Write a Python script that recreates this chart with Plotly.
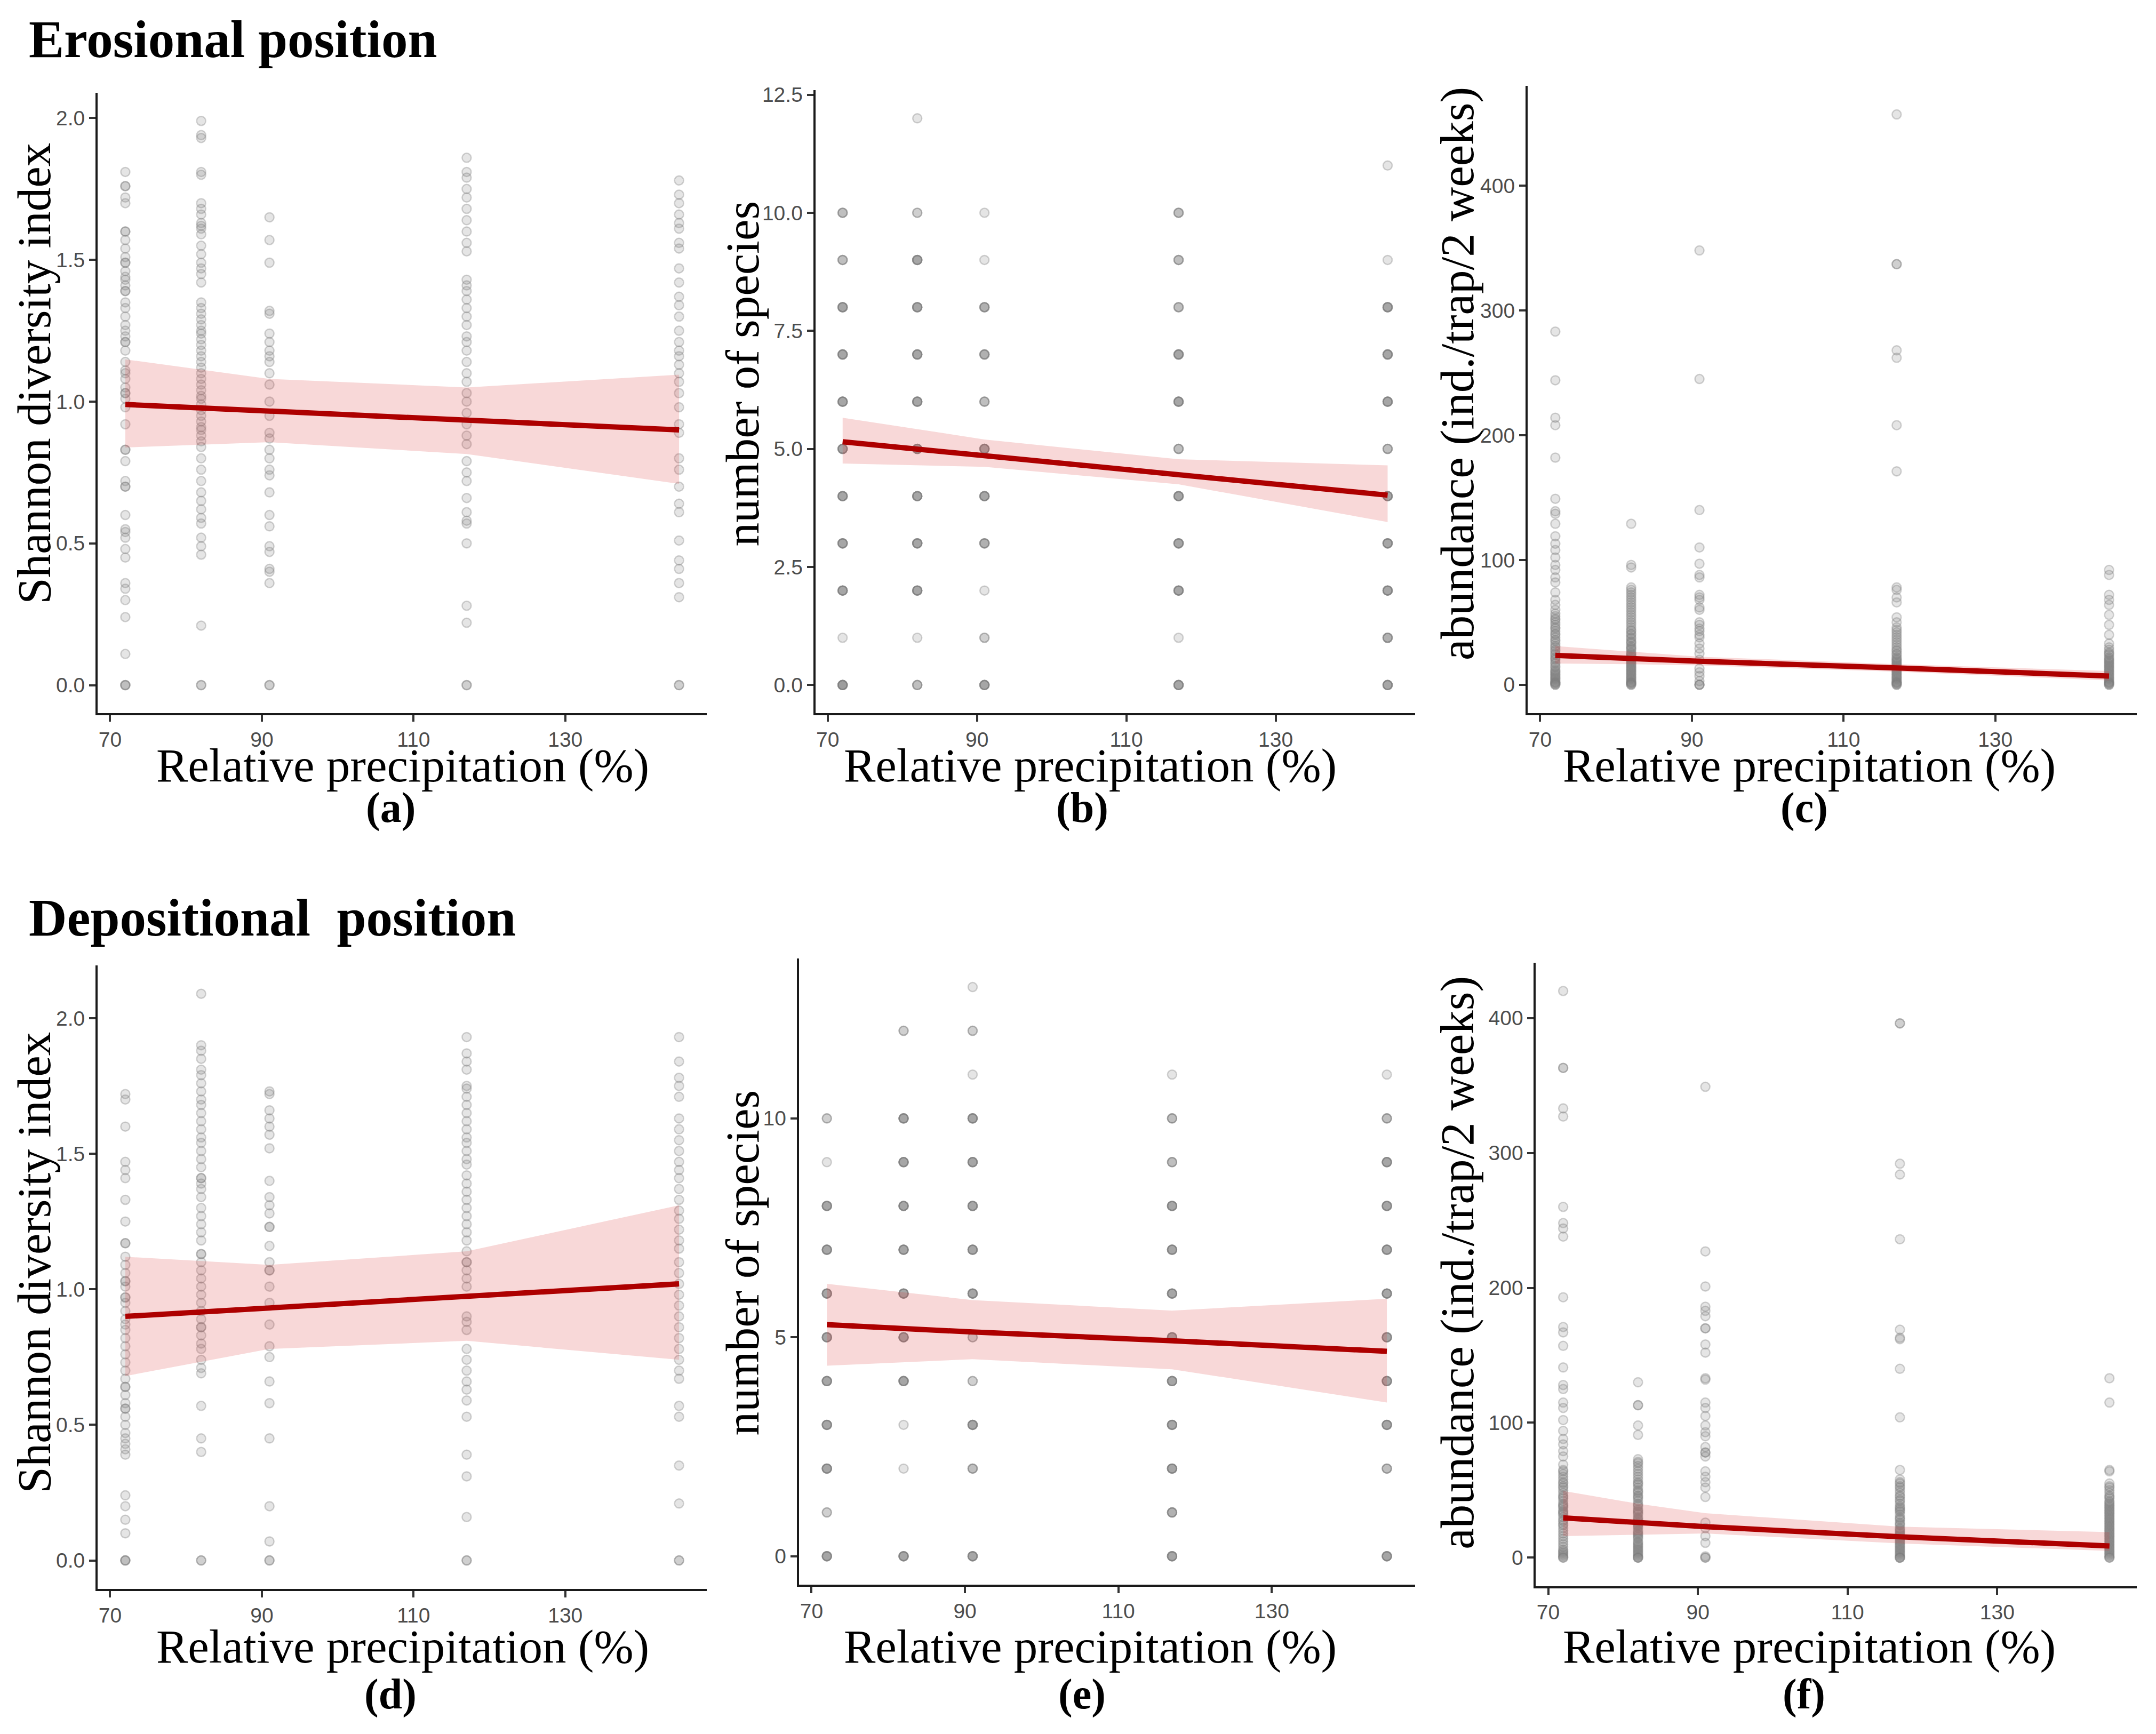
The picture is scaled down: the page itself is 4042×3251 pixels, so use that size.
import numpy as np
import plotly.graph_objects as go

# precipitation levels (%) of the five sites
precip = [72, 82, 91, 117, 145]

# ---------- Erosional position ----------
# (a) Shannon diversity index, one list per precipitation level
sh_ero_72 = [1.81, 1.76, 1.76, 1.72, 1.70, 1.60, 1.60, 1.57, 1.54, 1.51, 1.49, 1.49, 1.46, 1.44, 1.43,
             1.41, 1.39, 1.39, 1.35, 1.33, 1.30, 1.27, 1.25, 1.23, 1.21, 1.21, 1.18, 1.14, 1.11, 1.10,
             1.08, 1.05, 1.03, 1.03, 1.01, 0.98, 0.92, 0.83, 0.83, 0.79, 0.72, 0.70, 0.70, 0.60, 0.55,
             0.54, 0.52, 0.48, 0.45, 0.36, 0.34, 0.30, 0.24, 0.11, 0, 0, 0]
sh_ero_82 = [1.99, 1.94, 1.93, 1.81, 1.80, 1.70, 1.68, 1.66, 1.63, 1.62, 1.61, 1.59, 1.55, 1.52, 1.49,
             1.47, 1.45, 1.42, 1.35, 1.33, 1.31, 1.29, 1.27, 1.25, 1.24, 1.22, 1.20, 1.18, 1.16, 1.14,
             1.12, 1.10, 1.08, 1.06, 1.04, 1.02, 1.01, 0.99, 0.97, 0.95, 0.93, 0.91, 0.90, 0.88, 0.86,
             0.84, 0.80, 0.76, 0.72, 0.68, 0.65, 0.62, 0.59, 0.57, 0.52, 0.49, 0.46, 0.21, 0, 0]
sh_ero_91 = [1.65, 1.57, 1.49, 1.32, 1.31, 1.24, 1.21, 1.18, 1.16, 1.14, 1.10, 1.06, 1.00, 0.95, 0.89,
             0.87, 0.83, 0.80, 0.76, 0.74, 0.68, 0.60, 0.56, 0.49, 0.47, 0.41, 0.40, 0.36, 0, 0]
sh_ero_117 = [1.86, 1.81, 1.79, 1.75, 1.72, 1.68, 1.64, 1.60, 1.56, 1.53, 1.43, 1.41, 1.39, 1.36, 1.33,
              1.30, 1.27, 1.23, 1.21, 1.18, 1.14, 1.10, 1.07, 1.03, 1.00, 0.96, 0.92, 0.88, 0.85, 0.79,
              0.75, 0.72, 0.66, 0.61, 0.58, 0.57, 0.50, 0.28, 0.22, 0, 0]
sh_ero_145 = [1.78, 1.73, 1.70, 1.66, 1.63, 1.61, 1.56, 1.54, 1.47, 1.42, 1.37, 1.34, 1.30, 1.25, 1.21,
              1.18, 1.16, 1.13, 1.10, 1.07, 1.03, 0.98, 0.92, 0.89, 0.80, 0.76, 0.70, 0.64, 0.61, 0.51,
              0.44, 0.41, 0.36, 0.31, 0, 0]

# (b) number of species: how many traps had 0,1,2,... species
sp_levels_ero = list(range(13))
sp_ero_72 = [6, 1, 5, 5, 5, 5, 5, 5, 5, 3, 3, 0, 0]
sp_ero_82 = [3, 1, 5, 5, 5, 5, 5, 5, 5, 5, 2, 0, 1]
sp_ero_91 = [5, 2, 1, 4, 5, 5, 3, 4, 4, 1, 1, 0, 0]
sp_ero_117 = [5, 1, 5, 5, 5, 3, 5, 5, 3, 3, 3, 0, 0]
sp_ero_145 = [5, 4, 5, 5, 5, 3, 5, 5, 5, 1, 0, 1, 0]

# (c) abundance (ind./trap/2 weeks)
ab_ero_72 = [283, 244, 214, 208, 182, 149, 139, 137, 129, 119, 113, 108, 102, 96, 92, 86, 82, 74, 68, 64,
             60, 57, 55, 53, 52, 50, 48, 46, 45, 43, 41, 40, 38, 36, 35, 33, 31, 30, 28, 27, 25, 24, 22,
             21, 20, 18, 17, 15, 14, 12, 11, 10, 9, 8, 7, 6, 5, 4, 3, 2, 2, 1, 1, 0, 0]
ab_ero_82 = [129, 96, 94, 78, 76, 74, 72, 70, 68, 66, 64, 62, 60, 58, 56, 54, 52, 50, 48, 46, 44, 43, 41,
             40, 38, 37, 35, 34, 33, 31, 30, 29, 28, 26, 25, 24, 23, 22, 21, 20, 19, 18, 17, 16, 15, 14,
             13, 12, 11, 10, 9, 8, 7, 6, 5, 4, 3, 2, 2, 1, 1, 0, 0]
ab_ero_91 = [348, 245, 140, 110, 97, 88, 86, 72, 70, 68, 62, 60, 50, 48, 45, 43, 40, 38, 33, 29, 25, 20,
             13, 10, 7, 3, 0, 0, 0]
ab_ero_117 = [457, 337, 337, 268, 262, 208, 171, 78, 76, 70, 66, 54, 50, 46, 44, 42, 40, 38, 36, 34, 32,
              30, 28, 27, 25, 24, 22, 21, 20, 19, 18, 17, 16, 15, 14, 13, 12, 11, 10, 9, 8, 7, 6, 5, 4,
              3, 2, 2, 1, 1, 0, 0]
ab_ero_145 = [92, 88, 72, 68, 64, 56, 48, 40, 33, 30, 28, 26, 25, 24, 22, 21, 20, 19, 18, 17, 16, 15, 14,
              13, 12, 11, 10, 9, 8, 7, 6, 5, 4, 3, 2, 2, 1, 1, 0, 0]

# ---------- Depositional position ----------
sh_dep_72 = [1.72, 1.70, 1.60, 1.47, 1.44, 1.41, 1.33, 1.25, 1.17, 1.17, 1.12, 1.09, 1.06, 1.03, 1.03,
             1.01, 0.97, 0.97, 0.95, 0.92, 0.89, 0.87, 0.85, 0.82, 0.79, 0.76, 0.73, 0.70, 0.67, 0.64,
             0.64, 0.61, 0.58, 0.56, 0.56, 0.53, 0.50, 0.47, 0.45, 0.43, 0.41, 0.39, 0.24, 0.20, 0.15,
             0.10, 0, 0, 0]
sh_dep_82 = [2.09, 1.90, 1.88, 1.85, 1.81, 1.79, 1.76, 1.73, 1.70, 1.68, 1.65, 1.62, 1.59, 1.56, 1.54,
             1.51, 1.48, 1.45, 1.41, 1.41, 1.39, 1.37, 1.34, 1.30, 1.27, 1.24, 1.21, 1.18, 1.13, 1.13,
             1.10, 1.07, 1.04, 1.01, 0.98, 0.95, 0.92, 0.89, 0.86, 0.86, 0.83, 0.80, 0.78, 0.74, 0.71,
             0.69, 0.57, 0.45, 0.40, 0, 0]
sh_dep_91 = [1.73, 1.72, 1.66, 1.63, 1.60, 1.57, 1.52, 1.40, 1.34, 1.31, 1.28, 1.23, 1.23, 1.16, 1.10,
             1.07, 1.07, 1.01, 0.95, 0.87, 0.79, 0.75, 0.66, 0.58, 0.45, 0.20, 0.07, 0, 0]
sh_dep_117 = [1.93, 1.87, 1.84, 1.81, 1.75, 1.74, 1.71, 1.68, 1.65, 1.62, 1.59, 1.56, 1.54, 1.51, 1.48,
              1.46, 1.42, 1.39, 1.36, 1.33, 1.30, 1.27, 1.24, 1.21, 1.18, 1.14, 1.10, 1.10, 1.07, 1.04,
              1.01, 0.90, 0.88, 0.85, 0.78, 0.74, 0.70, 0.66, 0.63, 0.59, 0.53, 0.39, 0.31, 0.16, 0, 0]
sh_dep_145 = [1.93, 1.84, 1.78, 1.75, 1.71, 1.63, 1.59, 1.55, 1.51, 1.47, 1.44, 1.41, 1.37, 1.33, 1.29,
              1.26, 1.22, 1.18, 1.15, 1.10, 1.06, 1.02, 0.98, 0.94, 0.90, 0.86, 0.82, 0.78, 0.74, 0.70,
              0.67, 0.57, 0.53, 0.35, 0.21, 0, 0]

sp_levels_dep = list(range(14))
sp_dep_72 = [5, 2, 5, 5, 5, 5, 5, 5, 5, 1, 2, 0, 0, 0]
sp_dep_82 = [5, 0, 1, 1, 5, 5, 5, 5, 5, 5, 5, 0, 2, 0]
sp_dep_91 = [5, 0, 3, 5, 2, 2, 5, 5, 5, 5, 5, 1, 2, 1]
sp_dep_117 = [5, 4, 5, 5, 5, 5, 5, 5, 5, 3, 3, 1, 0, 0]
sp_dep_145 = [5, 0, 3, 5, 5, 5, 5, 5, 5, 5, 3, 1, 0, 0]

ab_dep_72 = [420, 363, 363, 333, 327, 260, 248, 244, 238, 193, 171, 167, 157, 141, 128, 125, 115, 111,
             102, 94, 88, 84, 79, 75, 69, 65, 64, 62, 60, 58, 56, 55, 53, 52, 50, 48, 46, 45, 44, 42, 40,
             39, 38, 37, 35, 34, 33, 32, 30, 28, 27, 25, 24, 22, 20, 18, 16, 14, 12, 10, 8, 6, 5, 4, 3,
             2, 1, 0, 0]
ab_dep_82 = [130, 113, 113, 98, 91, 73, 71, 70, 68, 66, 64, 62, 60, 58, 56, 55, 54, 52, 50, 49, 48, 46,
             45, 44, 42, 40, 39, 38, 36, 35, 34, 33, 32, 30, 29, 28, 27, 26, 25, 24, 23, 22, 20, 19, 18,
             17, 16, 15, 14, 12, 11, 10, 9, 8, 7, 6, 5, 4, 3, 2, 1, 0, 0, 0]
ab_dep_91 = [349, 227, 201, 186, 183, 179, 170, 170, 158, 152, 133, 132, 115, 111, 105, 98, 93, 90, 82,
             78, 78, 75, 64, 60, 56, 52, 45, 26, 22, 16, 11, 1, 0, 0]
ab_dep_117 = [396, 396, 292, 284, 236, 169, 163, 162, 140, 104, 65, 58, 56, 55, 53, 52, 50, 48, 46, 45,
              43, 42, 40, 38, 37, 36, 35, 34, 32, 30, 29, 28, 26, 25, 24, 22, 21, 20, 19, 18, 17, 16,
              15, 14, 13, 12, 11, 10, 9, 8, 7, 6, 5, 4, 3, 2, 1, 0, 0, 0]
ab_dep_145 = [133, 115, 65, 64, 55, 53, 52, 50, 48, 46, 45, 44, 42, 41, 40, 39, 38, 37, 36, 35, 34, 33,
              32, 31, 30, 29, 28, 27, 26, 25, 24, 23, 22, 21, 20, 19, 18, 17, 16, 15, 14, 13, 12, 11, 10,
              9, 8, 7, 6, 5, 4, 3, 2, 1, 0, 0]

# ---------- fitted lines with 95% band ----------
fit_x = [72, 91, 117, 145]
fit_x5 = [72, 82, 91, 117, 145]
fit_a = [0.99, 0.967, 0.935, 0.90]
lo_a = [0.838, 0.857, 0.815, 0.71]
hi_a = [1.149, 1.08, 1.05, 1.095]
fit_b = [5.15, 4.86, 4.45, 4.02]
lo_b = [4.69, 4.62, 4.25, 3.45]
hi_b = [5.66, 5.20, 4.78, 4.65]
fit_c = [23.5, 21.0, 18.8, 13.5, 7.0]
lo_c = [17.0, 16.5, 15.5, 10.5, 3.5]
hi_c = [31.0, 26.5, 22.5, 16.5, 11.0]
fit_d = [0.90, 0.93, 0.975, 1.02]
lo_d = [0.68, 0.78, 0.81, 0.74]
hi_d = [1.12, 1.09, 1.14, 1.31]
fit_e = [5.29, 5.12, 4.92, 4.68]
lo_e = [4.35, 4.50, 4.27, 3.51]
hi_e = [6.22, 5.85, 5.61, 5.88]
fit_f = [29.5, 26.0, 23.0, 15.5, 8.7]
lo_f = [16.0, 17.0, 18.0, 10.6, 5.0]
hi_f = [49.5, 40.0, 33.0, 23.0, 19.0]

x_ticks = [70, 90, 110, 130]

# ---------- layout helpers (reference grid 1568 x 1261) ----------
GW, GH = 1568.0, 1261.0
W, H = 4042, 3251
PAD = 8                      # default body margin of the page
FW, FH = W - 2 * PAD, H - 2 * PAD
SX, SY = W / GW, H / GH


def gx(p):
    return (p * SX - PAD) / FW


def gy(p):
    return 1 - (p * SY - PAD) / FH


SERIF = "Liberation Serif, Times New Roman, serif"
SANS = "Liberation Sans, Arial, sans-serif"
PT_FILL = "rgba(127,127,127,0.2)"
PT_EDGE = "rgba(127,127,127,0.35)"
LINE_COLOR = "#ad0000"
BAND_COLOR = "rgba(220,60,60,0.2)"

fig = go.Figure()


def cols_from_values(cols):
    xs, ys = [], []
    for xv, vals in zip(precip, cols):
        xs += [xv] * len(vals)
        ys += list(vals)
    return xs, ys


def cols_from_counts(levels, cols):
    xs, ys = [], []
    for xv, counts in zip(precip, cols):
        v = list(np.repeat(levels, counts))
        xs += [xv] * len(v)
        ys += v
    return xs, ys


panels = [
    # points, fit x, fit, lo, hi, box (l, r, top, bottom), yrange, yticks, fmt
    (cols_from_values([sh_ero_72, sh_ero_82, sh_ero_91, sh_ero_117, sh_ero_145]),
     fit_x, fit_a, lo_a, hi_a, (71, 514, 63, 516), [-0.0995, 2.0895], [0, 0.5, 1.0, 1.5, 2.0], ".1f"),
    (cols_from_counts(sp_levels_ero, [sp_ero_72, sp_ero_82, sp_ero_91, sp_ero_117, sp_ero_145]),
     fit_x, fit_b, lo_b, hi_b, (593, 1029, 61, 516), [-0.6, 12.6], [0, 2.5, 5.0, 7.5, 10.0, 12.5], ".1f"),
    (cols_from_values([ab_ero_72, ab_ero_82, ab_ero_91, ab_ero_117, ab_ero_145]),
     fit_x5, fit_c, lo_c, hi_c, (1111, 1554, 58, 516), [-22.9, 479.9], [0, 100, 200, 300, 400], "d"),
    (cols_from_values([sh_dep_72, sh_dep_82, sh_dep_91, sh_dep_117, sh_dep_145]),
     fit_x, fit_d, lo_d, hi_d, (71, 514, 700, 1155), [-0.1045, 2.1945], [0, 0.5, 1.0, 1.5, 2.0], ".1f"),
    (cols_from_counts(sp_levels_dep, [sp_dep_72, sp_dep_82, sp_dep_91, sp_dep_117, sp_dep_145]),
     fit_x, fit_e, lo_e, hi_e, (581, 1029, 695, 1152), [-0.65, 13.65], [0, 5, 10], "d"),
    (cols_from_values([ab_dep_72, ab_dep_82, ab_dep_91, ab_dep_117, ab_dep_145]),
     fit_x5, fit_f, lo_f, hi_f, (1117, 1554, 698, 1153), [-21.0, 441.0], [0, 100, 200, 300, 400], "d"),
]

layout_axes = {}
for i, ((px, py), fx, fy, lo, hi, box, yr, yt, fmt) in enumerate(panels):
    n = i + 1
    xa = "x" if n == 1 else "x%d" % n
    ya = "y" if n == 1 else "y%d" % n
    fig.add_trace(go.Scatter(x=px, y=py, mode="markers", xaxis=xa, yaxis=ya,
                             marker=dict(size=17, color=PT_FILL, line=dict(width=2.5, color=PT_EDGE)),
                             showlegend=False, hoverinfo="skip"))
    fig.add_trace(go.Scatter(x=list(fx) + list(fx)[::-1], y=list(hi) + list(lo)[::-1],
                             fill="toself", fillcolor=BAND_COLOR, mode="lines",
                             line=dict(width=0), xaxis=xa, yaxis=ya,
                             showlegend=False, hoverinfo="skip"))
    fig.add_trace(go.Scatter(x=fx, y=fy, mode="lines", xaxis=xa, yaxis=ya,
                             line=dict(color=LINE_COLOR, width=10),
                             showlegend=False, hoverinfo="skip"))
    l, r, t, b = box
    common = dict(showline=True, linecolor="#1a1a1a", linewidth=4, ticks="outside",
                  ticklen=12, tickwidth=4, tickcolor="#333333", showgrid=False, zeroline=False,
                  tickfont=dict(family=SANS, size=39, color="#4d4d4d"))
    layout_axes["xaxis" if n == 1 else "xaxis%d" % n] = dict(
        domain=[gx(l), gx(r)], anchor=ya, range=[68.35, 148.65], tickvals=x_ticks, **common)
    layout_axes["yaxis" if n == 1 else "yaxis%d" % n] = dict(
        domain=[gy(b), gy(t)], anchor=xa, range=yr, tickvals=yt, tickformat=fmt, **common)

fig.update_layout(**layout_axes)

ann = []
# row titles
ann.append(dict(text="<b>Erosional position</b>", x=gx(20), y=gy(24), xanchor="left", yanchor="middle",
                font=dict(family=SERIF, size=99, color="black")))
ann.append(dict(text="<b>Depositional  position</b>", x=gx(20), y=gy(665), xanchor="left", yanchor="middle",
                font=dict(family=SERIF, size=99, color="black")))
# x titles and panel labels
xt_y = {0: 554, 1: 1197}
lab_y = {0: 585, 1: 1232}
centers_x = [293, 793, 1316]
lab_x = [284, 787, 1312]
labels = ["(a)", "(b)", "(c)", "(d)", "(e)", "(f)"]
for k in range(6):
    row, col = divmod(k, 3)
    ann.append(dict(text="Relative precipitation (%)", x=gx(centers_x[col]), y=gy(xt_y[row]),
                    xanchor="center", yanchor="middle", font=dict(family=SERIF, size=89, color="black")))
    ann.append(dict(text="<b>%s</b>" % labels[k], x=gx(lab_x[col]), y=gy(lab_y[row]),
                    xanchor="center", yanchor="middle", font=dict(family=SERIF, size=80, color="black")))
# y titles
y_titles = ["Shannon diversity index", "number of species", "abundance (ind./trap/2 weeks)"]
yt_x = [25, 540, 1060]
yt_y = {0: 268, 1: 917}
for k in range(6):
    row, col = divmod(k, 3)
    ann.append(dict(text=y_titles[col], x=gx(yt_x[col]), y=gy(yt_y[row]), textangle=-90,
                    xanchor="center", yanchor="middle", font=dict(family=SERIF, size=89, color="black")))

for a in ann:
    a.update(xref="paper", yref="paper", showarrow=False)

fig.update_layout(annotations=ann, width=FW, height=FH, margin=dict(l=0, r=0, t=0, b=0),
                  paper_bgcolor="white", plot_bgcolor="white")

fig.write_html("out.html")
